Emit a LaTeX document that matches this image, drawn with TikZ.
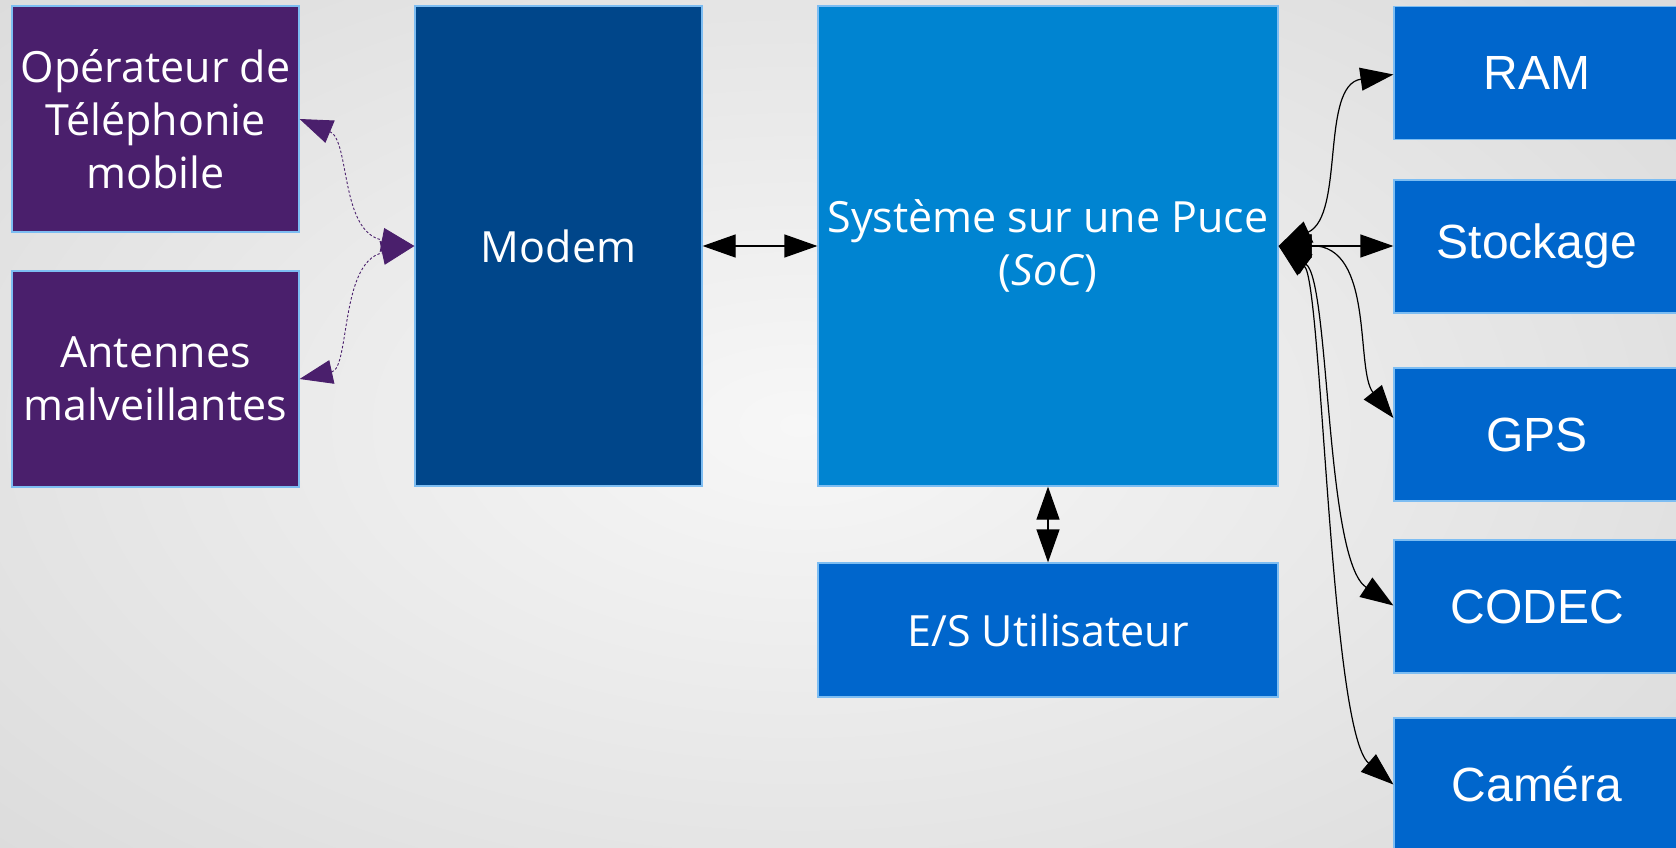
\documentclass[tikz,border=0pt]{standalone}
\usepackage{fontspec}
\setmainfont{Open Sans}
\newfontfamily\arialfont{Liberation Sans}
\usetikzlibrary{arrows.meta,calc}
\definecolor{purp}{HTML}{4A1F6C}
\definecolor{modemc}{HTML}{00468A}
\definecolor{socc}{HTML}{0084D1}
\definecolor{blueb}{HTML}{0066CC}
\definecolor{edge}{HTML}{7DBDF2}
\definecolor{bgin}{HTML}{F7F7F7}
\definecolor{bgout}{HTML}{DCDCDC}
\begin{document}
\begin{tikzpicture}[x=1pt,y=-1pt,
  box/.style={draw=edge, line width=1.2pt, inner sep=0pt, align=center, text=white,
    font=\fontsize{43}{53}\selectfont},
  rbox/.style={box, fill=blueb, minimum width=286pt, minimum height=133pt,
    font=\arialfont\fontsize{48}{56}\selectfont},
  conn/.style={line width=1.2pt, {Triangle[length=33pt,width=23pt]}-{Triangle[length=33pt,width=23pt]}},
  dconn/.style={purp, line width=0.9pt, dash pattern=on 2.5pt off 2pt,
    {Triangle[length=33pt,width=24pt,sep=0pt]}-{Triangle[length=33pt,width=24pt]}}
]
\useasboundingbox (0,0) rectangle (1676,848);
\clip (0,0) rectangle (1676,848);
\fill[inner color=bgin, outer color=bgout] (-300,-200) rectangle (1900,1050);

\node[box, fill=purp, minimum width=287pt, minimum height=226pt] (op) at (155.5,119) {Opérateur de\\Téléphonie\\mobile};
\node[box, fill=purp, minimum width=287pt, minimum height=216pt] (ant) at (155.5,379) {Antennes\\malveillantes};
\node[box, fill=modemc, minimum width=287pt, minimum height=480pt] (modem) at (558.5,246) {Modem};
\node[box, fill=socc, minimum width=460pt, minimum height=480pt] (soc) at (1048,246) {Système sur une Puce\\(\textit{SoC})};
\node[box, fill=blueb, minimum width=460pt, minimum height=134pt] (es) at (1048,630) {E/S Utilisateur};

\node[rbox] (ram) at (1537,73) {RAM};
\node[rbox] (sto) at (1537,246.5) {Stockage};
\node[rbox] (gps) at (1537,434.5) {GPS};
\node[rbox] (codec) at (1537,606.5) {CODEC};
\node[rbox] (cam) at (1537,784.5) {Caméra};

\draw[conn] (modem.east) -- (soc.west);
\draw[conn] (soc.south) -- (es.north);

\draw[dconn] (op.east) .. controls (350,140) and (340,232) .. (modem.west);
\draw[dconn] (ant.east) .. controls (350,368) and (340,262) .. (modem.west);

\draw[conn] (soc.east) .. controls (1345,215) and (1320,85) .. ($(ram.west)+(0,1.5)$);
\draw[conn] (soc.east) -- (sto.west |- soc.east);
\draw[conn] (soc.east) .. controls (1375,245) and (1355,370) .. ($(gps.west)+(0,-16.5)$);
\draw[conn] (soc.east) .. controls (1330,280) and (1325,560) .. ($(codec.west)+(0,-1)$);
\draw[conn] (soc.east) .. controls (1322,280) and (1330,730) .. (cam.west);
\end{tikzpicture}
\end{document}
